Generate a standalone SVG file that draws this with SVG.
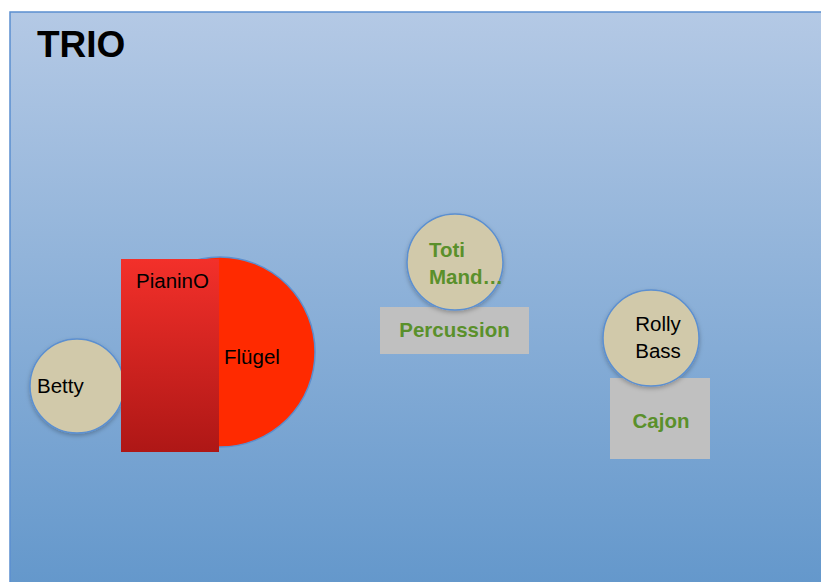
<svg xmlns="http://www.w3.org/2000/svg" width="821" height="582" viewBox="0 0 821 582">
<defs>
<linearGradient id="bg" x1="0" y1="0" x2="0" y2="1">
<stop offset="0" stop-color="#b4c9e5"/>
<stop offset="1" stop-color="#6397cb"/>
</linearGradient>
<linearGradient id="piano" x1="0" y1="0" x2="0" y2="1">
<stop offset="0" stop-color="#f3302a"/>
<stop offset="1" stop-color="#ae1716"/>
</linearGradient>
<filter id="sh" x="-20%" y="-20%" width="140%" height="140%">
<feDropShadow dx="0" dy="2" stdDeviation="2" flood-color="#000" flood-opacity="0.25"/>
</filter>
</defs>
<style>
.person{fill:#d1c9aa;stroke:#5b8fd0;stroke-width:1.5;filter:url(#sh)}
.t{font-family:"Liberation Sans",Arial,sans-serif;font-size:20.5px;fill:#000}
.g{font-family:"Liberation Sans",Arial,sans-serif;font-size:20.5px;font-weight:bold;fill:#5a902b}
.box{fill:#c0c0c0}
</style>
<rect width="821" height="582" fill="#ffffff"/>
<g id="stage">
<rect x="10" y="12" width="820" height="580" fill="url(#bg)" stroke="#5b8fd0" stroke-width="1.5"/>
<text x="37" y="57" font-family="Liberation Sans,Arial,sans-serif" font-size="37" font-weight="bold" fill="#000">TRIO</text>
</g>
<g id="fluegel">
<circle cx="220" cy="352" r="95" fill="#ff2a00" stroke="#5b8fd0" stroke-width="1.5"/>
<text class="t" x="224" y="364">Flügel</text>
</g>
<g id="betty">
<circle class="person" cx="77" cy="386" r="47"/>
<text class="t" x="37" y="393">Betty</text>
</g>
<g id="pianino">
<rect x="121" y="259" width="98" height="193" fill="url(#piano)"/>
<text class="t" x="136" y="288">PianinO</text>
</g>
<g id="percussion">
<rect class="box" x="380" y="307" width="149" height="47"/>
<text class="g" x="454.5" y="337" text-anchor="middle">Percussion</text>
</g>
<g id="toti">
<circle class="person" cx="455" cy="262" r="48"/>
<text class="g" x="429" y="257">Toti</text>
<text class="g" x="429" y="284">Mand…</text>
</g>
<g id="cajon">
<rect class="box" x="610" y="378" width="100" height="81"/>
<text class="g" x="661" y="428" text-anchor="middle">Cajon</text>
</g>
<g id="rolly">
<circle class="person" cx="651" cy="338" r="48"/>
<text class="t" x="658" y="331" text-anchor="middle">Rolly</text>
<text class="t" x="658" y="358" text-anchor="middle">Bass</text>
</g>
<g id="connectors"></g>
</svg>
